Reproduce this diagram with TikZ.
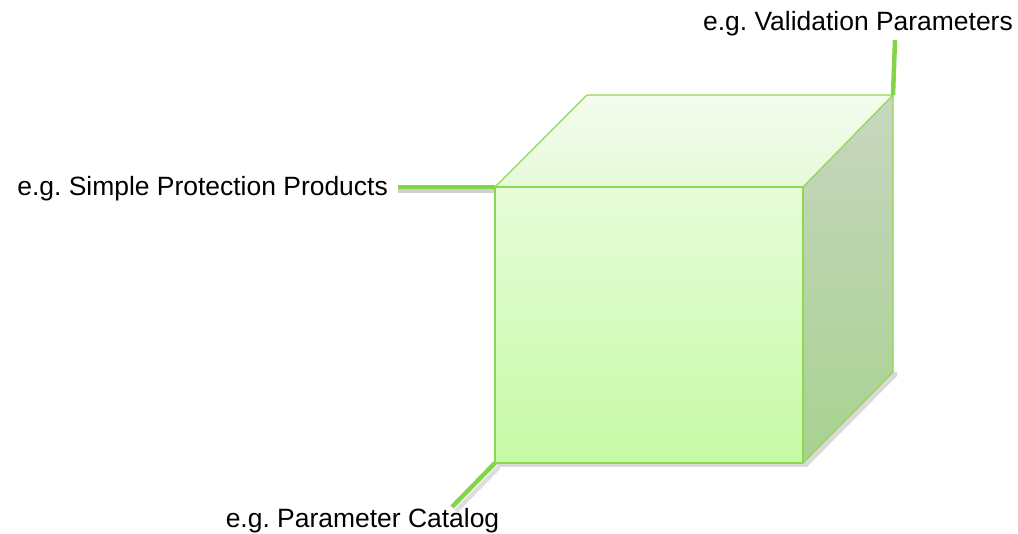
\documentclass[tikz,border=0pt]{standalone}
\usepackage{fontspec}
\setmainfont{Liberation Sans}
\frenchspacing
\begin{document}
\begin{tikzpicture}[x=1pt,y=-1pt,
  edge/.style={draw=lineG,line width=1.2pt,line join=round},
  lead/.style={draw=leadG,line width=4.5pt},
  shad/.style={draw=shadG,line width=4.5pt},
  lbl/.style={font=\fontsize{26.45}{30}\selectfont,inner sep=0pt}]
\definecolor{lineG}{HTML}{8CD850}
\definecolor{leadG}{HTML}{84D448}
\definecolor{shadG}{HTML}{D0D0D0}
\definecolor{frontT}{HTML}{E6FCD8}
\definecolor{frontB}{HTML}{C6FAA6}
\definecolor{topT}{HTML}{F4FCEE}
\definecolor{topB}{HTML}{E6FADA}
\definecolor{sideT}{HTML}{C8D6C0}
\definecolor{sideB}{HTML}{A8D290}
\useasboundingbox (0,0) rectangle (1018,534);
% coordinates
\coordinate (A) at (495,187);
\coordinate (B) at (803,187);
\coordinate (C) at (803,463);
\coordinate (D) at (495,463);
\coordinate (E) at (587,95);
\coordinate (F) at (893,95);
\coordinate (G) at (893,372);
\coordinate (L1) at (398,187);
\coordinate (L2) at (895,40);
\coordinate (L3) at (452,507);
% shadow
\fill[shadG!80] ([shift={(4,4)}]D) -- ([shift={(4,4)}]C) -- ([shift={(4,4)}]G) -- ([shift={(4,0)}]G) -- (G) -- (C) -- (D) -- cycle;
\draw[shad] ([shift={(0,4)}]L1) -- ([shift={(0,4)}]A);
\draw[shad,draw=shadG!70] ([shift={(4,4)}]L3) -- ([shift={(4,4)}]D);
% faces
\shade[top color=frontT,bottom color=frontB] (A) rectangle (C);
\shade[top color=topT,bottom color=topB] (A) -- (E) -- (F) -- (B) -- cycle;
\shade[top color=sideT,bottom color=sideB] (B) -- (F) -- (G) -- (C) -- cycle;
\draw[edge] (A) -- (B) -- (C) -- (D) -- cycle;
\draw[edge] (A) -- (E) -- (F) -- (B);
\draw[edge] (F) -- (G) -- (C);
% leaders
\draw[lead] (L1) -- (A);
\draw[lead] (F) -- (L2);
\draw[lead] (D) -- (L3);
% labels
\node[lbl,anchor=east] (t1) at (388,189) {e.g. Simple Protection Products};
\node[lbl,anchor=east] (t2) at (1013,24) {e.g. Validation Parameters};
\node[lbl] (t3) at (362.5,521) {e.g. Parameter Catalog};
\end{tikzpicture}
\end{document}
